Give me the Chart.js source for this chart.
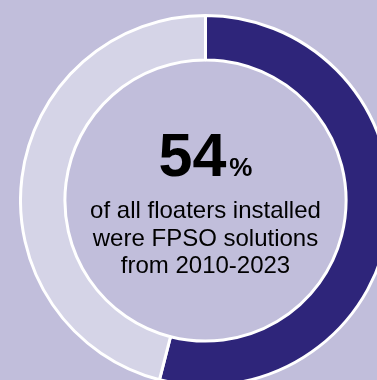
<!DOCTYPE html>
<html>
<head>
<meta charset="utf-8">
<script src="https://cdn.jsdelivr.net/npm/chart.js@4"></script>
<style>
  html, body { margin: 0; padding: 0; width: 377px; height: 380px; overflow: hidden; background: #c1bedb; }
  #wrap { position: absolute; left: 19px; top: 14px; width: 373px; height: 373px; }
</style>
</head>
<body>
<div id="wrap"><canvas id="chart"></canvas></div>
<script>
// data
const labels = ['FPSO', 'Other floaters'];
const shares = [54, 46];
const sliceColors = ['#2e257a', '#d5d4e7'];
const bigValue = '54';
const bigUnit = '%';
const captionLines = ['of all floaters installed', 'were FPSO solutions', 'from 2010-2023'];

const FONT = '"Liberation Sans", Arial, sans-serif';

// text in the hole
const centerText = {
  id: 'centerText',
  afterDraw(chart) {
    const ctx = chart.ctx;
    const arc = chart.getDatasetMeta(0).data[0];
    const cx = arc.x, cy = arc.y;
    ctx.save();
    ctx.fillStyle = '#000';
    ctx.textBaseline = 'alphabetic';
    ctx.font = 'bold 61px ' + FONT;
    const w1 = ctx.measureText(bigValue).width;
    ctx.font = 'bold 26px ' + FONT;
    const w2 = ctx.measureText(bigUnit).width;
    const gap = 3;
    let x = cx - (w1 + gap + w2) / 2;
    const base = cy - 25;
    ctx.textAlign = 'left';
    ctx.font = 'bold 61px ' + FONT;
    ctx.fillText(bigValue, x, base);
    ctx.font = 'bold 26px ' + FONT;
    ctx.fillText(bigUnit, x + w1 + gap, base);

    ctx.textAlign = 'center';
    ctx.font = '24px ' + FONT;
    captionLines.forEach((line, i) => {
      ctx.fillText(line, cx, cy + 17.5 + i * 27.5);
    });
    ctx.restore();
  }
};

new Chart(document.getElementById('chart'), {
  type: 'doughnut',
  data: {
    labels: labels,
    datasets: [{
      data: shares,
      backgroundColor: sliceColors,
      hoverBackgroundColor: sliceColors,
      borderColor: '#ffffff',
      borderWidth: 3,
      hoverBorderWidth: 3,
      hoverOffset: 0
    }]
  },
  options: {
    responsive: true,
    maintainAspectRatio: false,
    animation: false,
    cutout: '76%',
    events: [],
    plugins: {
      legend: { display: false },
      tooltip: { enabled: false }
    }
  },
  plugins: [centerText]
});
</script>
</body>
</html>
